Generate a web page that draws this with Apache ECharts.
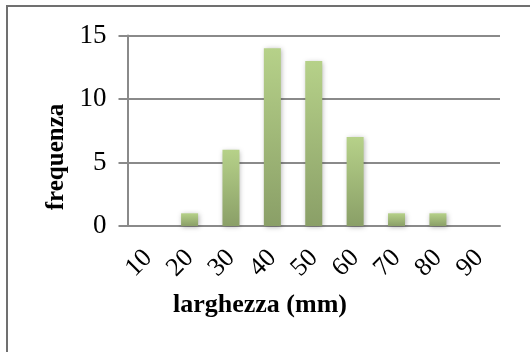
<!DOCTYPE html>
<html><head><meta charset="utf-8">
<script src="https://cdn.jsdelivr.net/npm/echarts@6/dist/echarts.min.js"></script>
<style>html,body{margin:0;padding:0;background:#fff}#c{width:530px;height:352px}</style>
</head><body><div id="c"></div>
<script>
var categories = ['10','20','30','40','50','60','70','80','90'];
var frequenza = [0,1,6,14,13,7,1,1,0];
var yTicks = [0,5,10,15];
var xTitle = 'larghezza (mm)';
var yTitle = 'frequenza';

var chart = echarts.init(document.getElementById('c'));
var font = '"Liberation Serif", "Times New Roman", serif';
var lineCol = '#8a8a8a';
chart.setOption({
  animation: false,
  backgroundColor: '#fff',
  grid: {left: 127.5, right: 30, top: 35.5, bottom: 126},
  xAxis: {
    type: 'category', data: categories,
    axisLine: {lineStyle: {color: lineCol, width: 2}},
    axisTick: {length: 7, lineStyle: {color: lineCol, width: 2}},
    axisLabel: {rotate: 45, interval: 0, margin: 28, fontFamily: font, fontSize: 26, color: '#000'}
  },
  yAxis: {
    type: 'value', min: yTicks[0], max: yTicks[yTicks.length-1], interval: 5,
    axisLine: {show: true, lineStyle: {color: lineCol, width: 2}},
    axisTick: {show: true, length: 9, lineStyle: {color: lineCol, width: 2}},
    splitLine: {lineStyle: {color: lineCol, width: 2}},
    axisLabel: {margin: 21, fontFamily: font, fontSize: 27, color: '#000'}
  },
  series: [{
    type: 'bar', data: frequenza, barWidth: 17,
    itemStyle: {
      color: new echarts.graphic.LinearGradient(0,0,0,1,[{offset:0,color:'#b6d189'},{offset:1,color:'#8a9f67'}]),
      shadowBlur: 5, shadowColor: 'rgba(0,0,0,0.3)', shadowOffsetX: 1, shadowOffsetY: 1
    }
  }],
  graphic: [
    {type:'rect', shape:{x:7, y:6, width:600, height:400}, style:{fill:'none', stroke:'#707070', lineWidth:2}, silent:true},
    {type:'text', x: 260, y: 305, style:{text: xTitle, textAlign:'center', textVerticalAlign:'middle', font:'bold 26px ' + font, fill:'#000'}},
    {type:'text', x: 57, y: 157, rotation: Math.PI/2, style:{text: yTitle, textAlign:'center', textVerticalAlign:'middle', font:'bold 25px ' + font, fill:'#000'}}
  ]
});
</script></body></html>
